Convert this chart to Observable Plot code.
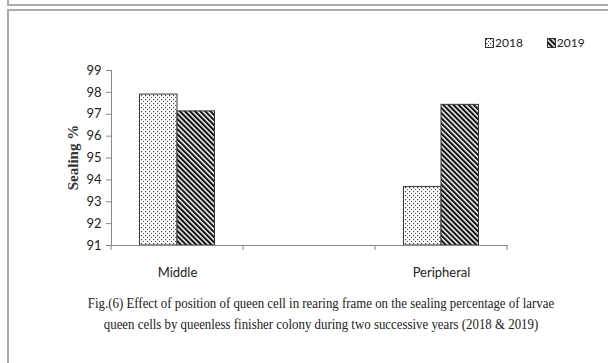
<!DOCTYPE html>
<html>
<head>
<meta charset="utf-8">
<script src="https://cdn.jsdelivr.net/npm/d3@7"></script>
<script src="https://cdn.jsdelivr.net/npm/@observablehq/plot@0.6"></script>
<style>
  html, body { margin: 0; padding: 0; background: #fff; }
  #page { position: relative; width: 608px; height: 363px; overflow: hidden; background: #fff; }
  .b1 { position: absolute; left: 7px; top: 0; width: 620px; height: 4px; border-left: 2px solid #aaa; border-bottom: 2px solid #aaa; }
  .b2 { position: absolute; left: 7px; top: 9px; width: 620px; height: 400px; border-left: 2px solid #aaa; border-top: 2px solid #aaa; }
  #chart { position: absolute; left: 0; top: 50px; }
  #legend { position: absolute; top: 35px; left: 485px; font: 12px Lato, sans-serif; color: #222; display: flex; gap: 24px; }
  #legend span { display: inline-flex; align-items: center; gap: 1px; }
  #caption { position: absolute; top: 292px; left: 0; width: 642px; text-align: center; font: 15.5px "Liberation Serif", "Times New Roman", serif; line-height: 21px; color: #222; transform: scaleX(0.83); transform-origin: 321px 0; white-space: nowrap; }
</style>
</head>
<body>
<div id="page">
  <div class="b1"></div>
  <div class="b2"></div>
  <div id="legend"></div>
  <div id="chart"></div>
  <div id="caption">Fig.(6) Effect of position of queen cell in rearing frame on the sealing percentage of larvae<br>queen cells by queenless finisher colony during two successive years (2018 &amp; 2019)</div>
</div>
<script>
const categories = ["Middle", "", "Peripheral"];
const years = ["2018", "2019"];
const values2018 = [97.9, null, 93.67];
const values2019 = [97.13, null, 97.43];
const yTicks = [91, 92, 93, 94, 95, 96, 97, 98, 99];
const yLabel = "Sealing %";

const patterns = {"2018": "url(#dots)", "2019": "url(#stripes)"};
const rows2018 = categories.map((c, i) => ({category: c, value: values2018[i]})).filter(d => d.value != null);
const rows2019 = categories.map((c, i) => ({category: c, value: values2019[i]})).filter(d => d.value != null);

const plot = Plot.plot({
  width: 608,
  height: 240,
  marginLeft: 111,
  marginRight: 101,
  marginTop: 20,
  marginBottom: 45,
  style: {fontFamily: "Lato, sans-serif", fontSize: "13px", color: "#222", background: "transparent"},
  x: {domain: categories, padding: 0, axis: null},
  y: {domain: [91, 99], clamp: true, axis: null},
  marks: [
    Plot.barY(rows2018, {x: "category", y: "value", fill: patterns["2018"], stroke: "#333", strokeWidth: 1, insetLeft: 28.5, insetRight: 66}),
    Plot.barY(rows2019, {x: "category", y: "value", fill: patterns["2019"], stroke: "#333", strokeWidth: 1, insetLeft: 66, insetRight: 28.5}),
    Plot.frame({anchor: "left", stroke: "#888"}),
    Plot.frame({anchor: "bottom", stroke: "#888"}),
    Plot.axisY({ticks: yTicks, tickSize: 5, tickPadding: 5, stroke: "#888", fill: "#222", tickFormat: d => String(d), label: null}),
    Plot.axisX({tickSize: 0, tickPadding: 22, fill: "#222", label: null, tickFormat: d => d})
  ]
});

// pattern definitions
const svg = d3.select(plot);
const defs = svg.insert("defs", ":first-child");
const dots = defs.append("pattern").attr("id", "dots").attr("patternUnits", "userSpaceOnUse").attr("width", 4).attr("height", 4);
dots.append("rect").attr("width", 4).attr("height", 4).attr("fill", "#fff");
dots.append("rect").attr("x", 1).attr("y", 1).attr("width", 1.2).attr("height", 1.2).attr("fill", "#444");
dots.append("rect").attr("x", 3).attr("y", 3).attr("width", 1.2).attr("height", 1.2).attr("fill", "#444");
const stripes = defs.append("pattern").attr("id", "stripes").attr("patternUnits", "userSpaceOnUse").attr("width", 3.6).attr("height", 3.6).attr("patternTransform", "rotate(-45)");
stripes.append("rect").attr("width", 3.6).attr("height", 3.6).attr("fill", "#fff");
stripes.append("rect").attr("width", 2.1).attr("height", 3.6).attr("fill", "#111");

// category boundary ticks from the x scale
const xs = plot.scale("x");
const ys = plot.scale("y");
const edges = categories.map(c => xs.apply(c)).concat([xs.apply(categories[categories.length - 1]) + xs.bandwidth]);
const y0 = ys.apply(91);
svg.append("g").attr("stroke", "#888").selectAll("line").data(edges).join("line")
  .attr("x1", d => d).attr("x2", d => d).attr("y1", y0).attr("y2", y0 + 5);

// y label
svg.append("text").attr("transform", `translate(75,${(ys.apply(99) + y0) / 2}) rotate(-90)`)
  .attr("text-anchor", "middle").attr("dominant-baseline", "middle")
  .style("font", "bold 15px 'Liberation Serif', serif").attr("fill", "#333").text(yLabel);

document.getElementById("chart").appendChild(plot);

// legend
const legend = d3.select("#legend");
years.forEach(y => {
  const s = legend.append("span");
  const sw = s.append("svg").attr("width", 9).attr("height", 10);
  sw.append("rect").attr("x", 0.5).attr("y", 0.5).attr("width", 8).attr("height", 9).attr("fill", patterns[y]).attr("stroke", "#333");
  s.append("span").text(y);
});
</script>
</body>
</html>
